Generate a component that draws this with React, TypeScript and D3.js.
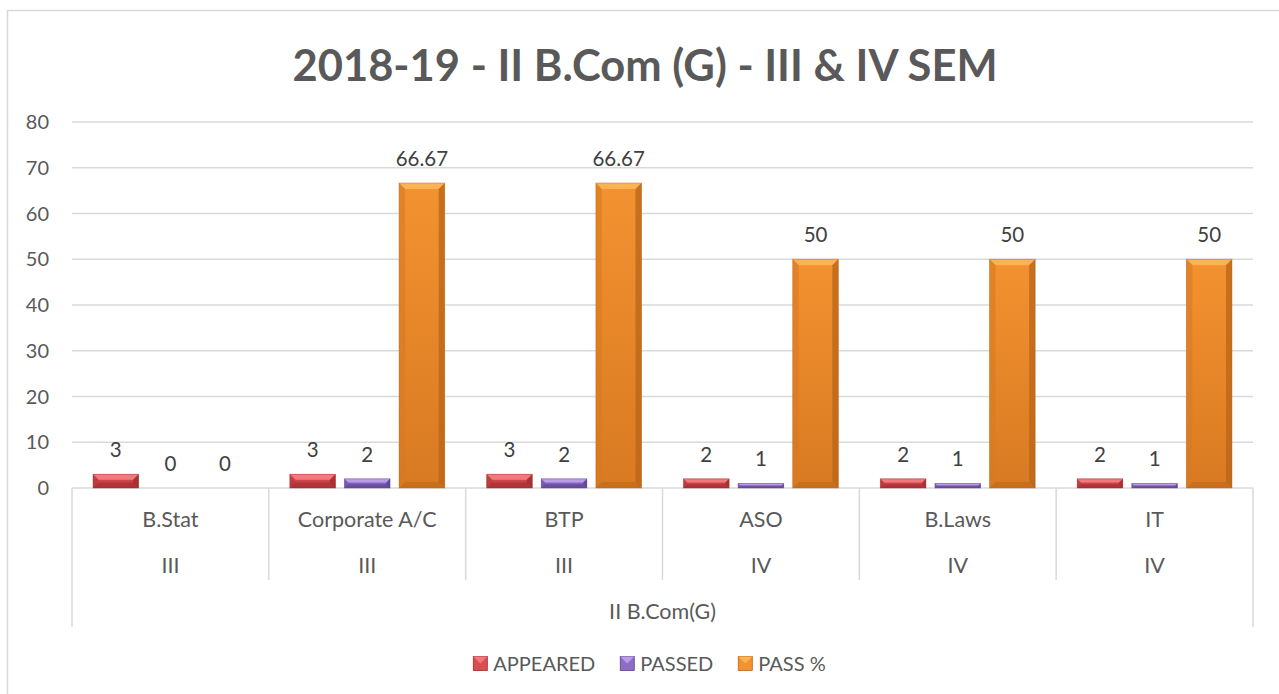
import { useEffect, useRef } from 'react';
import * as d3 from 'd3';

const subjects = ['B.Stat', 'Corporate A/C', 'BTP', 'ASO', 'B.Laws', 'IT'];
const semesters = ['III', 'III', 'III', 'IV', 'IV', 'IV'];
const groupLabel = 'II B.Com(G)';
const seriesNames = ['APPEARED', 'PASSED', 'PASS %'];
const appeared = [3, 3, 3, 2, 2, 2];
const passed = [0, 2, 2, 1, 1, 1];
const passPct = [0, 66.67, 66.67, 50, 50, 50];
const yTicks = [0, 10, 20, 30, 40, 50, 60, 70, 80];

const palette = [
  { base: '#dc4d50', light: '#f27a7c', dark: '#9e2b2e', edge: '#b83a3d' },
  { base: '#8f6cc6', light: '#b99de6', dark: '#5c3f8e', edge: '#7657ad' },
  { base: '#f39230', light: '#fcb255', dark: '#b86418', edge: '#d87a22' },
];

export default function App() {
  const svgRef = useRef<SVGSVGElement>(null);

  useEffect(() => {
    if (!svgRef.current) return;
    const root = d3.select(svgRef.current);
    root.selectAll('*').remove();

    const width = 1279;
    const height = 694;
    const font = 'Lato, "Open Sans", sans-serif';
    const left = 72;
    const right = 1253;
    const top = 122;
    const bottom = 488;

    // chart frame
    root
      .append('rect')
      .attr('x', 7.5)
      .attr('y', 10.5)
      .attr('width', 1300)
      .attr('height', 700)
      .attr('fill', '#fff')
      .attr('stroke', '#d9d9d9')
      .attr('stroke-width', 1.5);

    const defs = root.append('defs');
    palette.forEach((c, i) => {
      const g = defs
        .append('linearGradient')
        .attr('id', `fill${i}`)
        .attr('x1', 0)
        .attr('y1', 0)
        .attr('x2', 0)
        .attr('y2', 1);
      g.append('stop').attr('offset', '0%').attr('stop-color', c.base);
      g.append('stop').attr('offset', '100%').attr('stop-color', c.edge);
    });

    root
      .append('text')
      .attr('x', 645)
      .attr('y', 81)
      .attr('text-anchor', 'middle')
      .attr('font-family', font)
      .attr('font-weight', 'bold')
      .attr('font-size', 43.5)
      .attr('fill', '#595959')
      .text('2018-19 - II B.Com (G) - III & IV SEM');

    const y = d3.scaleLinear().domain([0, 80]).range([bottom, top]);
    const x0 = d3.scaleBand<number>().domain(d3.range(subjects.length)).range([left, right]);
    const inner = 21;
    const x1 = d3
      .scaleBand<number>()
      .domain([0, 1, 2])
      .range([inner, x0.bandwidth() - inner])
      .paddingInner(0.165);

    // gridlines
    root
      .append('g')
      .selectAll('line')
      .data(yTicks.slice(1))
      .join('line')
      .attr('x1', left)
      .attr('x2', right)
      .attr('y1', d => y(d))
      .attr('y2', d => y(d))
      .attr('stroke', '#d9d9d9')
      .attr('stroke-width', 1.3);

    root
      .append('g')
      .selectAll('text')
      .data(yTicks)
      .join('text')
      .attr('x', 49)
      .attr('y', d => y(d) + 7)
      .attr('text-anchor', 'end')
      .attr('font-family', font)
      .attr('font-size', 20)
      .attr('fill', '#595959')
      .text(d => d);

    // category axis
    const axis = root.append('g').attr('stroke', '#d9d9d9').attr('stroke-width', 1.5);
    axis.append('line').attr('x1', left).attr('x2', right).attr('y1', bottom).attr('y2', bottom);
    d3.range(subjects.length + 1).forEach(i => {
      const xx = i < subjects.length ? x0(i)! : right;
      const edge = i === 0 || i === subjects.length;
      axis
        .append('line')
        .attr('x1', xx)
        .attr('x2', xx)
        .attr('y1', bottom)
        .attr('y2', edge ? 627 : 580);
    });

    const cat = root.append('g').attr('font-family', font).attr('font-size', 21.5).attr('fill', '#595959').attr('text-anchor', 'middle');
    subjects.forEach((s, i) => {
      const cx = x0(i)! + x0.bandwidth() / 2;
      cat.append('text').attr('x', cx).attr('y', 527).text(s);
      cat.append('text').attr('x', cx).attr('y', 573).text(semesters[i]);
    });
    cat.append('text').attr('x', (left + right) / 2).attr('y', 619).text(groupLabel);

    // bars
    const series = [appeared, passed, passPct];
    const bw = x1.bandwidth();
    series.forEach((vals, si) => {
      const c = palette[si];
      vals.forEach((v, i) => {
        const bx = x0(i)! + x1(si)!;
        const by = y(v);
        const h = bottom - by;
        if (h > 0) {
          const b = Math.min(6, h / 2.5);
          const g = root.append('g');
          g.append('rect').attr('x', bx).attr('y', by).attr('width', bw).attr('height', h).attr('fill', `url(#fill${si})`);
          g.append('polygon')
            .attr('points', `${bx},${by} ${bx + bw},${by} ${bx + bw - b},${by + b} ${bx + b},${by + b}`)
            .attr('fill', c.light);
          g.append('polygon')
            .attr('points', `${bx},${by} ${bx + b},${by + b} ${bx + b},${bottom - b} ${bx},${bottom}`)
            .attr('fill', c.edge)
            .attr('opacity', 0.6);
          g.append('polygon')
            .attr('points', `${bx + bw},${by} ${bx + bw - b},${by + b} ${bx + bw - b},${bottom - b} ${bx + bw},${bottom}`)
            .attr('fill', c.dark)
            .attr('opacity', 0.75);
          g.append('polygon')
            .attr('points', `${bx},${bottom} ${bx + b},${bottom - b} ${bx + bw - b},${bottom - b} ${bx + bw},${bottom}`)
            .attr('fill', c.dark)
            .attr('opacity', 0.5);
          g.append('rect')
            .attr('x', bx)
            .attr('y', by)
            .attr('width', bw)
            .attr('height', h)
            .attr('fill', 'none')
            .attr('stroke', c.dark)
            .attr('stroke-opacity', 0.5)
            .attr('stroke-width', 0.8);
        }
        root
          .append('text')
          .attr('x', bx + bw / 2)
          .attr('y', by - 17)
          .attr('text-anchor', 'middle')
          .attr('font-family', font)
          .attr('font-size', 20.5)
          .attr('fill', '#404040')
          .text(v);
      });
    });

    // legend
    const legend = root.append('g').attr('font-family', font).attr('font-size', 20).attr('fill', '#595959');
    let lx = 0;
    const items: { g: any; w: number }[] = [];
    seriesNames.forEach((name, si) => {
      const c = palette[si];
      const g = legend.append('g');
      g.append('rect').attr('x', 0).attr('y', -7).attr('width', 14).attr('height', 14).attr('fill', c.base).attr('stroke', c.dark).attr('stroke-width', 0.8);
      g.append('polygon').attr('points', '0,-7 14,-7 7,0').attr('fill', c.light);
      const t = g.append('text').attr('x', 20).attr('y', 7).text(name);
      const tw = (t.node() as SVGTextElement).getComputedTextLength();
      items.push({ g, w: 20 + tw });
    });
    items.forEach((it, i) => {
      it.g.attr('transform', `translate(${lx},0)`);
      lx += it.w + (i < items.length - 1 ? 25 : 0);
    });
    legend.attr('transform', `translate(${649.5 - lx / 2},663.5)`);

    root.attr('width', width).attr('height', height);
  }, []);

  return <svg ref={svgRef} style={{ position: 'absolute', left: 0, top: 0 }}></svg>;
}
